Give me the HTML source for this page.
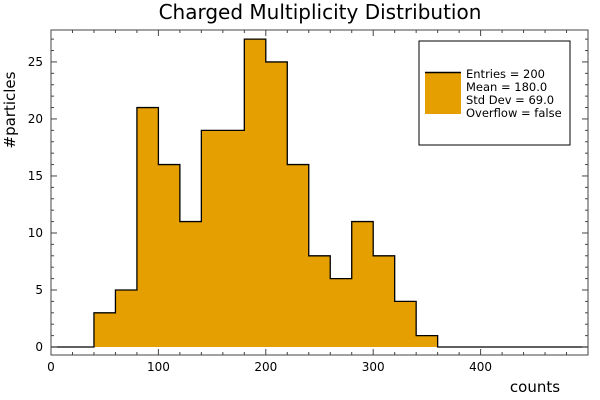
<!DOCTYPE html>
<html><head><meta charset="utf-8"><style>body{margin:0;background:#fff}svg{display:block;font-family:"DejaVu Sans","Liberation Sans",sans-serif}</style></head>
<body>
<svg id="c" width="600" height="400">
<text x="320" y="19" text-anchor="middle" font-size="20">Charged Multiplicity Distribution</text>
<text x="535" y="392" text-anchor="middle" font-size="15">counts</text>
<text transform="translate(15,110) rotate(-90)" text-anchor="middle" font-size="15">#particles</text>
<g id="plot"></g>
<g>
<rect x="419" y="41" width="151" height="104" fill="#fff" stroke="#000" stroke-width="1"/>
<rect x="425" y="72" width="36" height="42" fill="#E69F00"/>
<line x1="425" y1="72.5" x2="461" y2="72.5" stroke="#000" stroke-width="1.5"/>
<text x="466" y="78" font-size="11.5">Entries = 200</text>
<text x="466" y="91" font-size="11.5">Mean = 180.0</text>
<text x="466" y="104" font-size="11.5">Std Dev = 69.0</text>
<text x="466" y="117" font-size="11.5">Overflow = false</text>
</g>
</svg>
<script>
const binEdgesStart = 40;
const binWidth = 20;
const counts = [3,5,21,16,11,19,19,27,25,16,8,6,11,8,4,1];
const xTicks = [0,100,200,300,400];
const yTicks = [0,5,10,15,20,25];
const L=51,R=588,T=30,B=355;
const xMin=0,xMax=500,yMin=-0.7,yMax=27.8;
const X=v=>L+(v-xMin)/(xMax-xMin)*(R-L);
const Y=v=>B-(v-yMin)/(yMax-yMin)*(B-T);
const g=document.getElementById('plot');
const NS='http://www.w3.org/2000/svg';
function mk(t,a){const e=document.createElementNS(NS,t);for(const k in a)e.setAttribute(k,a[k]);g.appendChild(e);return e;}
let fd='M'+X(binEdgesStart)+','+Y(0);
counts.forEach((c,i)=>{const x0=X(binEdgesStart+i*binWidth),x1=X(binEdgesStart+(i+1)*binWidth);fd+=' L'+x0+','+Y(c)+' L'+x1+','+Y(c);});
fd+=' L'+X(binEdgesStart+counts.length*binWidth)+','+Y(0)+' Z';
const fill=mk('path',{d:fd,fill:'#E69F00',stroke:'none'});


let d='M'+X(xMin)+','+Y(0)+' L'+X(binEdgesStart)+','+Y(0);
counts.forEach((c,i)=>{const x0=X(binEdgesStart+i*binWidth),x1=X(binEdgesStart+(i+1)*binWidth);d+=' L'+x0+','+Y(c)+' L'+x1+','+Y(c);});
d+=' L'+X(binEdgesStart+counts.length*binWidth)+','+Y(0)+' L'+X(xMax)+','+Y(0);
const p=mk('path',{d:d,fill:'none',stroke:'#000','stroke-width':1.3});


const f=mk('rect',{x:L,y:T,width:R-L,height:B-T,fill:'none',stroke:'#444','stroke-width':1});


for(let v=0;v<=500;v+=20){const x=X(v),len=v%100==0?6:3;
 mk('line',{x1:x,x2:x,y1:B,y2:B-len,stroke:'#444'});mk('line',{x1:x,x2:x,y1:T,y2:T+len,stroke:'#444'});}
for(let v=0;v<=27;v++){const y=Y(v),len=v%5==0?6:3;
 mk('line',{x1:L,x2:L+len,y1:y,y2:y,stroke:'#444'});mk('line',{x1:R,x2:R-len,y1:y,y2:y,stroke:'#444'});}
xTicks.forEach(v=>{const t=mk('text',{x:X(v),y:B+16,'text-anchor':'middle','font-size':12});t.textContent=v;
 
 });
yTicks.forEach(v=>{const t=mk('text',{x:L-8,y:Y(v)+4,'text-anchor':'end','font-size':12});t.textContent=v;
 
 });
</script>
</body></html>
